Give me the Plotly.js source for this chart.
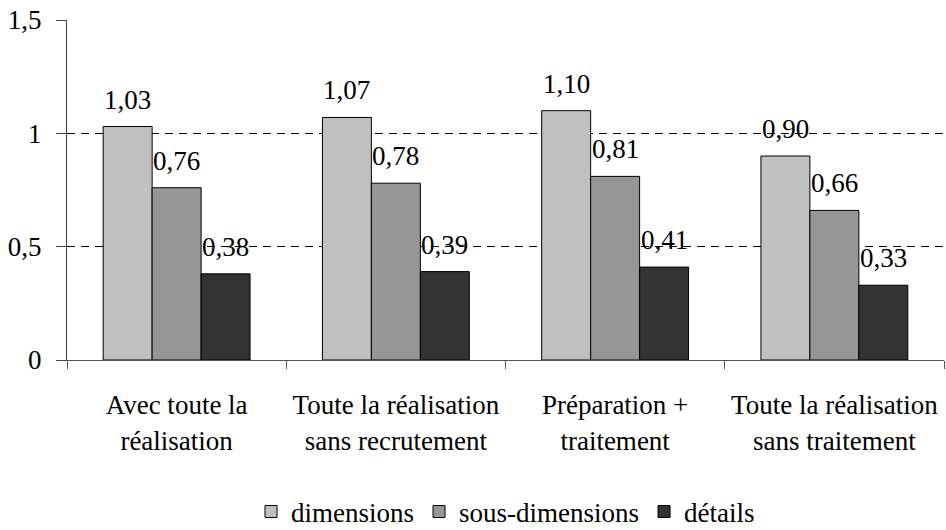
<!DOCTYPE html>
<html><head><meta charset="utf-8">
<script src="https://cdn.plot.ly/plotly-3.0.1.min.js"></script>
<style>html,body{margin:0;padding:0;background:#fff}</style>
</head><body>
<div id="chart" style="width:946px;height:530px"></div>
<script>
const categories = ["Avec toute la<br>réalisation", "Toute la réalisation<br>sans recrutement", "Préparation +<br>traitement", "Toute la réalisation<br>sans traitement"];
const dimensions = [1.03, 1.07, 1.10, 0.90];
const sousDimensions = [0.76, 0.78, 0.81, 0.66];
const details = [0.38, 0.39, 0.41, 0.33];
const seriesNames = ["dimensions", "sous-dimensions", "détails"];
const colors = ["#c0c0c0", "#969696", "#333333"];

const FS = 27;
const F = () => ({family: "Liberation Serif", size: FS, color: "#000"});
const series = [dimensions, sousDimensions, details];
const bargap = 0.33;
const barW = (1 - bargap) / series.length;

const traces = series.map((vals, i) => ({
  type: "bar",
  name: seriesNames[i],
  x: categories,
  y: vals,
  marker: {color: colors[i], line: {color: "#000", width: 1}},
  hoverinfo: "skip"
}));

const annotations = [];
series.forEach((vals, i) => {
  vals.forEach((v, k) => {
    annotations.push({
      xref: "x", yref: "y",
      x: k + (i - (series.length - 1) / 2) * barW,
      y: v,
      text: v.toFixed(2).replace(".", ","),
      showarrow: false,
      xanchor: "center", yanchor: "bottom",
      yshift: 10,
      font: F()
    });
  });
});

const layout = {
  width: 946, height: 530,
  margin: {l: 67, r: 2, t: 20, b: 170},
  paper_bgcolor: "#fff", plot_bgcolor: "#fff",
  font: F(),
  separators: ",.",
  barmode: "group",
  bargap: bargap,
  bargroupgap: 0,
  showlegend: true,
  legend: {orientation: "h", xref: "paper", x: 0.5, xanchor: "center", yref: "container", y: 0.034, yanchor: "middle", font: F(), traceorder: "normal", itemwidth: 30},
  annotations: annotations,
  xaxis: {
    type: "category",
    showline: true, linecolor: "#555", linewidth: 1,
    ticks: "outside", tickson: "boundaries", ticklen: 8, tickcolor: "#555",
    ticklabelstandoff: 21,
    showgrid: false, zeroline: false,
    tickfont: F()
  },
  yaxis: {
    range: [0, 1.5],
    tickvals: [0, 0.5, 1, 1.5],
    showline: true, linecolor: "#444", linewidth: 1,
    ticks: "outside", ticklen: 10, tickcolor: "#444",
    showgrid: true, gridcolor: "#000", gridwidth: 1, griddash: "8px,6px",
    zeroline: false,
    tickfont: F(),
    ticklabelstandoff: 9
  }
};
Plotly.newPlot("chart", traces, layout, {displayModeBar: false, staticPlot: true});
</script>
</body></html>
